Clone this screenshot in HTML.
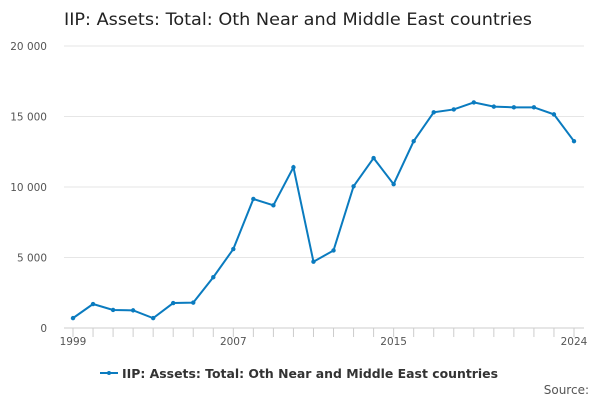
<!DOCTYPE html>
<html><head><meta charset="utf-8"><style>
body{margin:0;width:600px;height:400px;background:#fff;font-family:"DejaVu Sans","Liberation Sans",sans-serif;overflow:hidden}
</style></head><body>
<svg width="600" height="400" id="chart">
<text x="64" y="25" font-size="17" fill="#222" textLength="468" lengthAdjust="spacingAndGlyphs">IIP: Assets: Total: Oth Near and Middle East countries</text>
<g id="grid"></g><g id="xaxis"></g><g id="series"></g>
<g>
<line x1="100" y1="373" x2="118" y2="373" stroke="#0a7bbf" stroke-width="2"/>
<circle cx="109" cy="373" r="2" fill="#0a7bbf"/>
<text x="122" y="378" font-size="12.5" font-weight="bold" fill="#333" textLength="376" lengthAdjust="spacingAndGlyphs">IIP: Assets: Total: Oth Near and Middle East countries</text>
</g>
<text x="589" y="394" font-size="12" fill="#555" text-anchor="end">Source:</text>
</svg>
<script>
const years=[1999,2000,2001,2002,2003,2004,2005,2006,2007,2008,2009,2010,2011,2012,2013,2014,2015,2016,2017,2018,2019,2020,2021,2022,2023,2024];
const values=[700,1700,1280,1250,700,1770,1800,3600,5600,9150,8700,11400,4700,5500,10050,12050,10200,13250,15300,15500,16000,15700,15650,15650,15150,13250];
const yTicks=[0,5000,10000,15000,20000];
const yTickLabels=["0","5 000","10 000","15 000","20 000"];
const xLabelYears=[1999,2007,2015,2024];
const NS="http://www.w3.org/2000/svg";
const x=v=>73+(v-1999)*(574-73)/25;
const y=v=>328-v*282/20000;
function mk(t,a,p){const e=document.createElementNS(NS,t);for(const k in a)e.setAttribute(k,a[k]);p.appendChild(e);return e;}
const g=document.getElementById('grid');
yTicks.forEach((t,i)=>{
 const l=mk('line',{x1:64,x2:584,y1:y(t),y2:y(t),stroke:t===0?'#ccc':'#e6e6e6'},g);
 
 
 const tx=mk('text',{x:47,y:y(t)+4,'font-size':10.5,fill:'#555','text-anchor':'end'},g);
 tx.textContent=yTickLabels[i];
 
 
});
const xa=document.getElementById('xaxis');
years.forEach(yr=>{
 const tk=mk('line',{x1:x(yr),x2:x(yr),y1:328,y2:337,stroke:'#ccc'},xa);
 
 
});
xLabelYears.forEach(yr=>{
 const t=mk('text',{x:x(yr),y:345,'font-size':10.5,fill:'#555','text-anchor':'middle'},xa);
 t.textContent=yr;
 
 
});
const s=document.getElementById('series');
const path=mk('polyline',{points:years.map((yr,i)=>x(yr)+','+y(values[i])).join(' '),fill:'none',stroke:'#0a7bbf','stroke-width':2},s);


years.forEach((yr,i)=>{
 const c=mk('circle',{cx:x(yr),cy:y(values[i]),r:2.2,fill:'#0a7bbf'},s);
 
 
});
</script>
</body></html>
